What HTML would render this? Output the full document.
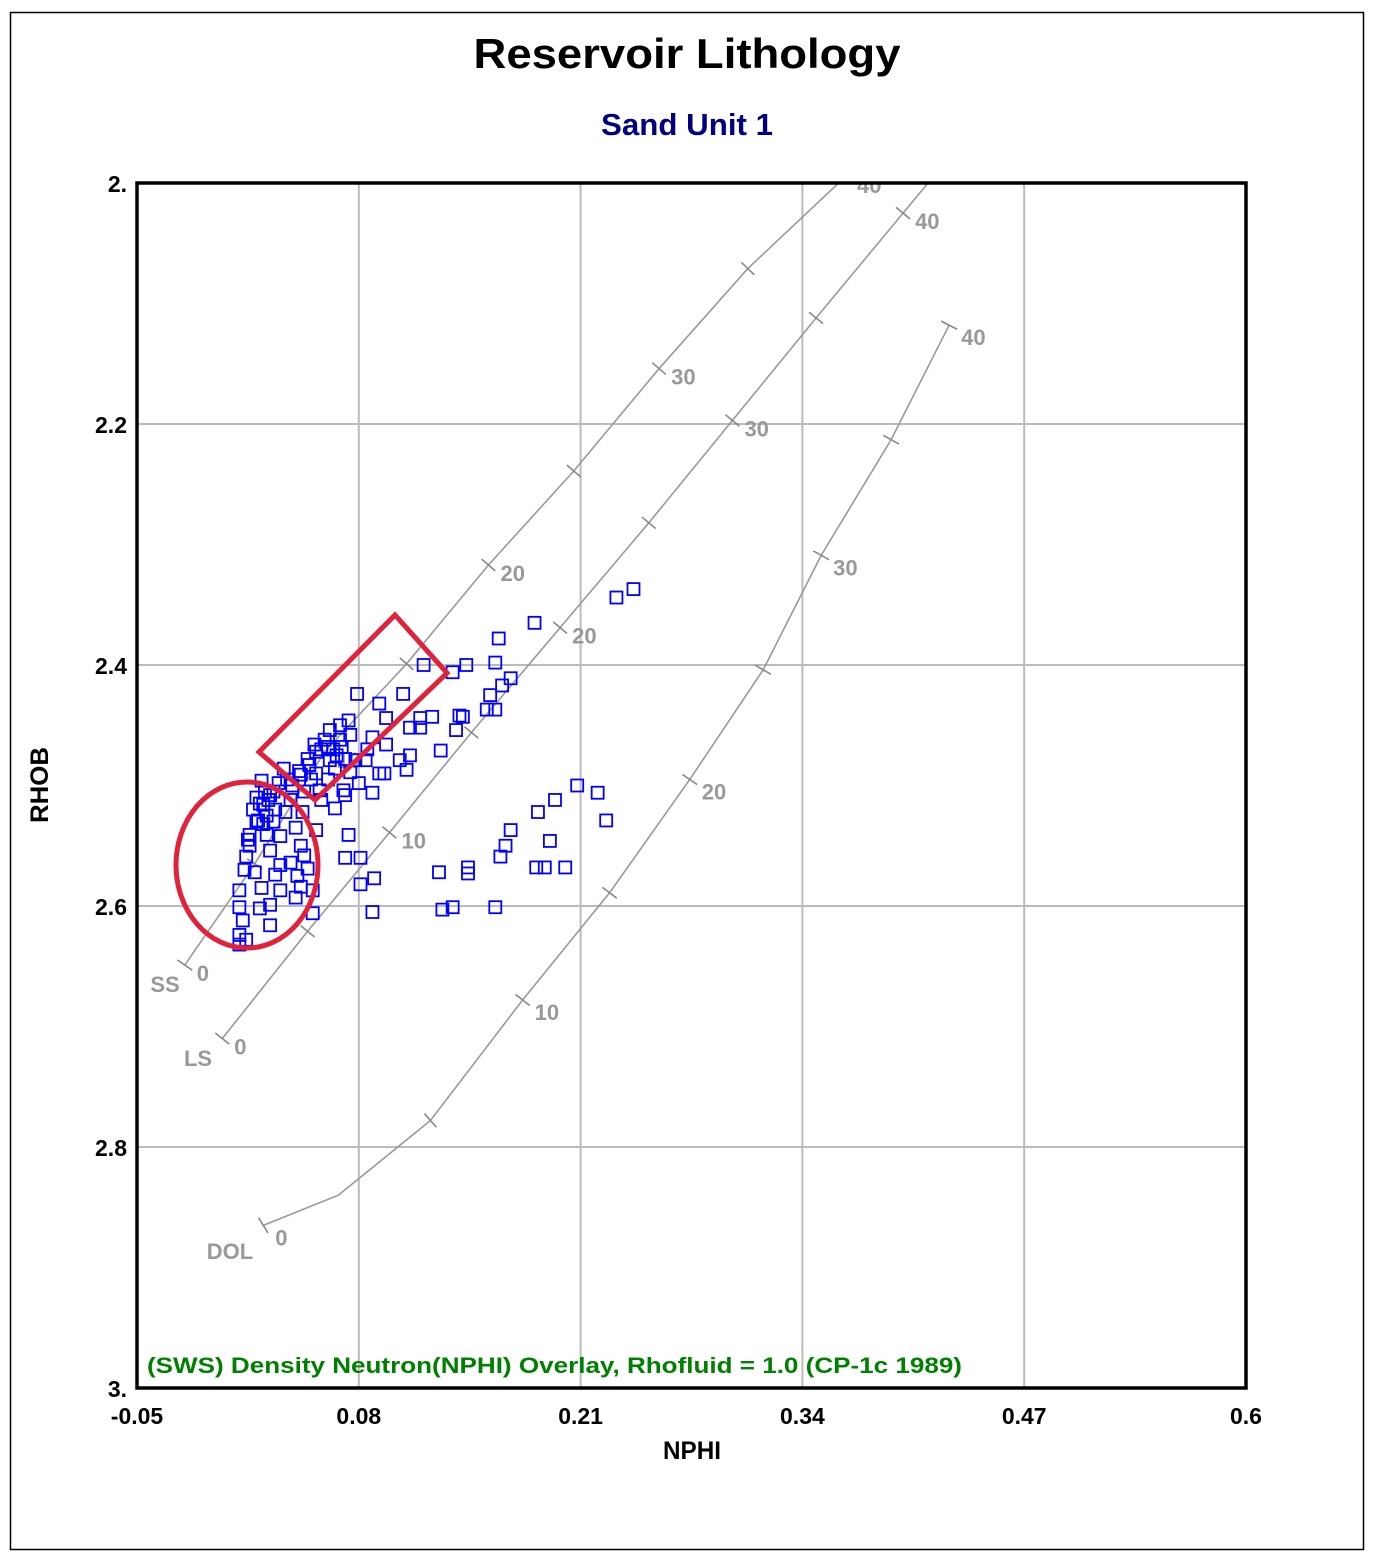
<!DOCTYPE html>
<html><head><meta charset="utf-8"><style>
html,body{margin:0;padding:0;background:#fff}
svg{display:block}
text{font-family:"Liberation Sans",Arial,sans-serif}
</style></head><body>
<svg id="chart" width="1374" height="1560" viewBox="0 0 1374 1560" xmlns="http://www.w3.org/2000/svg">
<rect x="10.5" y="12.5" width="1353" height="1537" fill="#fff" stroke="#000" stroke-width="1.5"/>
<text x="687" y="68" text-anchor="middle" font-size="42" font-weight="bold" textLength="427" lengthAdjust="spacingAndGlyphs">Reservoir Lithology</text>
<text x="687" y="135" text-anchor="middle" font-size="31" font-weight="bold" fill="#000080" textLength="172" lengthAdjust="spacingAndGlyphs">Sand Unit 1</text>
<g id="grid"></g>
<g id="overlay"></g>
<g id="points"></g>
<g>
<ellipse cx="247" cy="865" rx="71" ry="83" fill="none" stroke="#e0223a" stroke-width="5"/>
<polygon points="259,752 395,615 447,673 315,800" fill="none" stroke="#e0223a" stroke-width="5" stroke-linejoin="miter"/>
</g>
<rect x="137" y="183" width="1109" height="1205" fill="none" stroke="#000" stroke-width="3.5"/>
<g id="axes"></g>
<text x="147" y="1373" font-size="22" font-weight="bold" fill="#008000" textLength="815" lengthAdjust="spacingAndGlyphs">(SWS) Density Neutron(NPHI) Overlay, Rhofluid = 1.0 (CP-1c 1989)</text>
<text x="692" y="1459" text-anchor="middle" font-size="25" font-weight="bold" textLength="58" lengthAdjust="spacingAndGlyphs">NPHI</text>
<text transform="translate(48,785) rotate(-90)" text-anchor="middle" font-size="25" font-weight="bold" textLength="76" lengthAdjust="spacingAndGlyphs">RHOB</text>
</svg>
<script>
const xTicks=[-0.05,0.08,0.21,0.34,0.47,0.6];
const xTickLabels=["-0.05","0.08","0.21","0.34","0.47","0.6"];
const yTicks=[2.0,2.2,2.4,2.6,2.8,3.0];
const yTickLabels=["2.","2.2","2.4","2.6","2.8","3."];
const nphi=[0.241,0.231,0.183,0.162,0.160,0.169,0.164,0.157,0.160,0.155,0.143,0.135,0.118,0.106,0.092,0.079,0.096,0.096,0.110,0.128,0.139,0.141,0.123,0.116,0.116,0.137,0.104,0.108,0.110,0.092,0.088,0.095,0.075,0.071,0.057,0.063,0.060,0.054,0.063,0.069,0.069,0.075,0.074,0.051,0.046,0.041,0.036,0.040,0.028,0.023,0.024,0.021,0.026,0.031,0.016,0.016,0.014,0.013,0.010,0.010,0.012,0.010,0.010,0.014,0.019,0.023,0.022,0.028,0.028,0.031,0.034,0.034,0.043,0.046,0.044,0.040,0.048,0.050,0.053,0.053,0.055,0.047,0.043,0.034,0.026,0.028,0.046,0.074,0.072,0.081,0.081,0.089,0.088,0.135,0.129,0.160,0.127,0.144,0.144,0.163,0.166,0.169,0.185,0.195,0.208,0.220,0.225,0.192,0.189,0.184,0.201,0.084,0.078,0.058,0.066,0.072,0.020,0.022,0.025,0.027,0.030,0.033,0.038,0.045,0.050,0.055,0.058,0.062,0.065,0.067,0.070,0.072,0.052,0.048,0.055,0.018,0.020,0.015,0.024,0.030,0.037,0.062,0.066,0.080,0.085,0.088];
const rhob=[2.337,2.344,2.365,2.378,2.398,2.411,2.417,2.425,2.437,2.437,2.400,2.406,2.400,2.424,2.432,2.424,2.444,2.466,2.452,2.471,2.442,2.443,2.443,2.444,2.452,2.454,2.479,2.487,2.475,2.490,2.506,2.490,2.489,2.504,2.504,2.479,2.462,2.466,2.454,2.462,2.450,2.458,2.446,2.483,2.491,2.500,2.486,2.512,2.508,2.496,2.516,2.529,2.525,2.520,2.541,2.550,2.559,2.570,2.587,2.601,2.612,2.624,2.632,2.628,2.572,2.585,2.602,2.616,2.599,2.574,2.566,2.587,2.593,2.584,2.575,2.564,2.558,2.569,2.587,2.606,2.537,2.522,2.535,2.542,2.541,2.554,2.550,2.541,2.560,2.560,2.582,2.577,2.605,2.601,2.603,2.601,2.572,2.573,2.568,2.559,2.550,2.537,2.522,2.512,2.500,2.506,2.529,2.546,2.568,2.568,2.568,2.479,2.479,2.512,2.519,2.508,2.510,2.515,2.505,2.512,2.505,2.498,2.495,2.488,2.478,2.472,2.470,2.468,2.470,2.475,2.468,2.478,2.495,2.505,2.490,2.520,2.530,2.545,2.532,2.530,2.522,2.495,2.486,2.498,2.470,2.460];
// overlay lines: porosity steps 0,5,...,40
const porosity=[0,5,10,15,20,25,30,35,40];
const ssNphi=[-0.022,0.019,0.060,0.108,0.156,0.206,0.256,0.308,0.365];
const ssRhob=[2.649,2.565,2.472,2.399,2.317,2.239,2.154,2.071,1.995];
const lsNphi=[0.000,0.050,0.098,0.146,0.198,0.250,0.299,0.348,0.399];
const lsRhob=[2.710,2.621,2.539,2.456,2.369,2.282,2.197,2.112,2.025];
const dolNphi=[0.024,0.122,0.176,0.227,0.274,0.317,0.351,0.392,0.426];
const dolRhob=[2.865,2.778,2.678,2.589,2.495,2.404,2.309,2.213,2.118];
const dolBendNphi=0.068, dolBendRhob=2.840;

const X0=137,X1=1246,Y0=183,Y1=1388;
const xs=v=>X0+(v-(-0.05))/(0.65)*(X1-X0);
const ys=v=>Y0+(v-2.0)/1.0*(Y1-Y0);
const NS="http://www.w3.org/2000/svg";
function mk(tag,attrs,parent){const e=document.createElementNS(NS,tag);for(const k in attrs)e.setAttribute(k,attrs[k]);parent.appendChild(e);return e;}
const grid=document.getElementById('grid');
xTicks.forEach((t,i)=>{if(i>0&&i<xTicks.length-1){const l=mk('line',{x1:xs(t),x2:xs(t),y1:Y0,y2:Y1,stroke:'#bbb','stroke-width':2},grid);

}});
yTicks.forEach((t,i)=>{if(i>0&&i<yTicks.length-1){const l=mk('line',{x1:X0,x2:X1,y1:ys(t),y2:ys(t),stroke:'#bbb','stroke-width':2},grid);

}});
const axes=document.getElementById('axes');
xTicks.forEach((t,i)=>{const e=mk('text',{x:xs(t),y:1424,'text-anchor':'middle','font-size':23,'font-weight':'bold'},axes);e.textContent=xTickLabels[i];

});
yTicks.forEach((t,i)=>{const e=mk('text',{x:127,y:ys(t)+9,'text-anchor':'end','font-size':23,'font-weight':'bold'},axes);e.textContent=yTickLabels[i];

});

const ov=document.getElementById('overlay');
const clip=mk('clipPath',{id:'pc'},ov);mk('rect',{x:X0,y:Y0,width:X1-X0,height:Y1-Y0},clip);
function drawCurve(name,nx,ry,extra,labels,labelDx,labelDy){
  const g=mk('g',{'clip-path':'url(#pc)'},ov);
  
  
  let pts=nx.map((v,i)=>[xs(v),ys(ry[i])]);
  if(extra)pts.splice(1,0,extra);
  // extend last segment to top
  const a=pts[pts.length-2],b=pts[pts.length-1];
  const ext=[b[0]+(b[0]-a[0])*0.4,b[1]+(b[1]-a[1])*0.4];
  const linePts=name==='dol'?pts:pts.concat([ext]);
  mk('polyline',{points:linePts.map(p=>p.join(',')).join(' '),fill:'none',stroke:'#999','stroke-width':1.6},g);
  nx.forEach((v,i)=>{
    const cx=xs(v),cy=ys(ry[i]);
    let j=Math.min(i+1,nx.length-1),k=Math.max(i-1,0);
    const dx=xs(nx[j])-xs(nx[k]),dy=ys(ry[j])-ys(ry[k]);const L=Math.hypot(dx,dy);
    const px=-dy/L*9,py=dx/L*9;
    const t=mk('line',{x1:cx-px,y1:cy-py,x2:cx+px,y2:cy+py,stroke:'#888','stroke-width':1.6},g);
    
    
    if(porosity[i]%10===0){
      const e=mk('text',{x:cx+labelDx,y:cy+labelDy,'font-size':22,'font-weight':'bold',fill:'#999'},g);
      e.textContent=String(porosity[i]);
      
      
    }
  });
}
drawCurve('ss',ssNphi,ssRhob,null,true,12,16);
drawCurve('ls',lsNphi,lsRhob,null,true,12,16);
drawCurve('dol',dolNphi,dolRhob,[xs(dolBendNphi),ys(dolBendRhob)],true,12,20);
[['SS',165,992],['LS',198,1066],['DOL',230,1259]].forEach(([s,x,y])=>{const e=mk('text',{x:x,y:y,'text-anchor':'middle','font-size':22,'font-weight':'bold',fill:'#999'},ov);e.textContent=s;

});

const pg=document.getElementById('points');
nphi.forEach((v,i)=>{const r=mk('rect',{x:xs(v)-6,y:ys(rhob[i])-6,width:12,height:12,fill:'none',stroke:'#0000ff','stroke-width':1.8},pg);

});
</script>
</body></html>
